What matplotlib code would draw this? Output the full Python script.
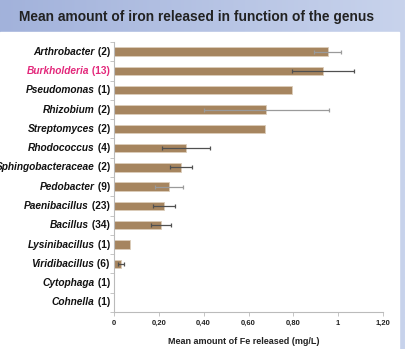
import numpy as np
import matplotlib
matplotlib.use("Agg")
import matplotlib.pyplot as plt
from matplotlib.colors import LinearSegmentedColormap
from matplotlib.patches import Rectangle

# Data: mean Fe released per genus (number of isolates in brackets)
genera = ["Arthrobacter", "Burkholderia", "Pseudomonas", "Rhizobium", "Streptomyces",
          "Rhodococcus", "Sphingobacteraceae", "Pedobacter", "Paenibacillus", "Bacillus",
          "Lysinibacillus", "Viridibacillus", "Cytophaga", "Cohnella"]
counts = [2, 13, 1, 2, 2, 4, 2, 9, 23, 34, 1, 6, 1, 1]
means = [0.954, 0.932, 0.795, 0.680, 0.672, 0.323, 0.298, 0.244, 0.223, 0.210,
         0.073, 0.030, 0.0, 0.0]
errors = [0.060, 0.140, 0.0, 0.280, 0.0, 0.107, 0.050, 0.062, 0.047, 0.043,
          0.0, 0.013, 0.0, 0.0]
xticks = [0, 0.2, 0.4, 0.6, 0.8, 1.0, 1.2]
xtick_labels = ["0", "0,20", "0,40", "0,60", "0,80", "1", "1,20"]
highlight = "Burkholderia"

W, H = 405, 349
fig = plt.figure(figsize=(W / 100, H / 100), dpi=100)

# Slide background: blue gradient with white content panel
bg = fig.add_axes([0, 0, 1, 1], zorder=0)
grad = np.linspace(0, 1, 256).reshape(1, -1)
cmap = LinearSegmentedColormap.from_list("slide", ["#A2B2DB", "#C8D3EC"])
bg.imshow(grad, aspect="auto", cmap=cmap, extent=[0, W, 0, H])
bg.add_patch(Rectangle((0, 0), 399, H - 32, color="white"))
bg.set_xlim(0, W)
bg.set_ylim(0, H)
bg.axis("off")

fig.text(197 / W, 1 - 16.5 / H, "Mean amount of iron released in function of the genus",
         ha="center", va="center", fontsize=9.9, fontweight="bold",
         color="#222222", family="Liberation Sans")

ax = fig.add_axes([114 / W, 1 - 312 / H, (383 - 114) / W, (312 - 42) / H], zorder=1)
ax.patch.set_alpha(0)
y = np.arange(len(genera))
ecolors = ["#9a9a9a", "#505050", "#505050", "#9a9a9a", "#505050", "#505050", "#505050",
           "#9a9a9a", "#505050", "#505050", "#505050", "#505050", "#505050", "#505050"]
ax.barh(y, means, height=0.44, color="#A6855F", edgecolor="#DCCDBB", linewidth=0.6)
for yi, m, e, c in zip(y, means, errors, ecolors):
    if e > 0:
        ax.errorbar(m, yi, xerr=e, fmt="none", ecolor=c, elinewidth=0.9,
                    capsize=1.5, capthick=0.9)

ax.set_xlim(0, 1.2)
ax.set_ylim(len(genera) - 0.5, -0.5)
ax.set_xticks(xticks)
ax.set_xticklabels(xtick_labels, fontsize=5.5, fontweight="bold",
                   family="Liberation Sans", color="#222222")
ax.tick_params(axis="x", length=3, width=0.6, color="#BBBBBB", pad=3)
ax.set_yticks(y)
ax.set_yticklabels([])
ax.tick_params(axis="y", which="major", length=0)
ax.set_yticks(np.arange(-0.5, len(genera), 1), minor=True)
ax.tick_params(axis="y", which="minor", length=3, width=0.6, color="#BBBBBB")
for side in ["top", "right"]:
    ax.spines[side].set_visible(False)
for side in ["left", "bottom"]:
    ax.spines[side].set_color("#BBBBBB")
    ax.spines[side].set_linewidth(0.8)

# Category labels: italic genus name followed by upright isolate count
fig.canvas.draw()
renderer = fig.canvas.get_renderer()
for yi, name, n in zip(y, genera, counts):
    col = "#E3287B" if name == highlight else "#111111"
    t = ax.annotate(f" ({n})", xy=(0, yi), xycoords=("axes fraction", "data"),
                    xytext=(-3, 0), textcoords="offset points",
                    ha="right", va="center", fontsize=7.3, fontweight="bold",
                    family="Liberation Sans", color=col)
    bb = t.get_window_extent(renderer)
    wpt = bb.width * 72 / fig.dpi
    ax.annotate(name, xy=(0, yi), xycoords=("axes fraction", "data"),
                xytext=(-3 - wpt, 0), textcoords="offset points",
                ha="right", va="center", fontsize=7.3, fontweight="bold",
                style="italic", family="Liberation Sans", color=col)

fig.text(244 / W, 1 - 342 / H, "Mean amount of Fe released (mg/L)", ha="center",
         va="center", fontsize=6.5, fontweight="bold", family="Liberation Sans",
         color="#222222")

fig.savefig("out.png", dpi=100)
